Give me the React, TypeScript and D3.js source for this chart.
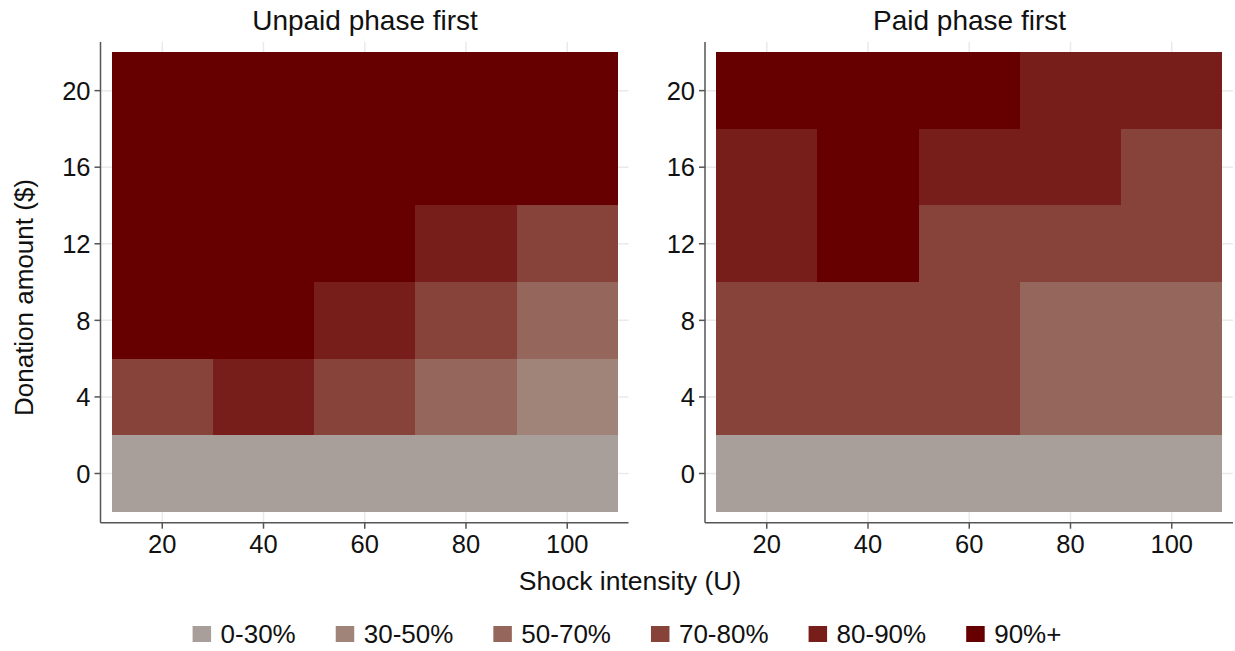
import React, { useMemo } from 'react';
import * as d3 from 'd3';

// --- Data ---
const shockLevels = [20, 40, 60, 80, 100];
const donationLevels = [0, 4, 8, 12, 16, 20];
const categories = ['0-30%', '30-50%', '50-70%', '70-80%', '80-90%', '90%+'];
const categoryColors = ['#a89f9a', '#a08479', '#94665c', '#87423a', '#771e1a', '#660000'];
const xTicks = [20, 40, 60, 80, 100];
const yTicks = [0, 4, 8, 12, 16, 20];

// category index per cell, one row per donation level (bottom to top), columns follow shockLevels
const unpaidFirst = [
  [0, 0, 0, 0, 0],
  [3, 4, 3, 2, 1],
  [5, 5, 4, 3, 2],
  [5, 5, 5, 4, 3],
  [5, 5, 5, 5, 5],
  [5, 5, 5, 5, 5],
];
const paidFirst = [
  [0, 0, 0, 0, 0],
  [3, 3, 3, 2, 2],
  [3, 3, 3, 2, 2],
  [4, 5, 3, 3, 3],
  [4, 5, 4, 4, 3],
  [5, 5, 5, 4, 4],
];
const panelTitles = ['Unpaid phase first', 'Paid phase first'];

// --- Layout ---
const W = 1235;
const H = 651;
const FONT = "'Liberation Sans', Arial, sans-serif";
const panelLeft = [100.5, 705];
const panelWidth = 528;
const plotTop = 42;
const plotBottom = 522.7;

const Panel = ({ left, title, cells }) => {
  const x = d3.scaleLinear().domain([7.8, 112.1]).range([left, left + panelWidth]);
  const y = d3.scaleLinear().domain([-2.57, 22.54]).range([plotBottom, plotTop]);
  const cw = 20;
  const ch = 4;
  return (
    <g>
      {/* grid */}
      {xTicks.map(t => (
        <line key={'gx' + t} x1={x(t)} x2={x(t)} y1={plotTop} y2={plotBottom} stroke="#eaeaea" strokeWidth={1.5} />
      ))}
      {yTicks.map(t => (
        <line key={'gy' + t} x1={left} x2={left + panelWidth} y1={y(t)} y2={y(t)} stroke="#eaeaea" strokeWidth={1.5} />
      ))}
      {/* cells */}
      {cells.map((row, ri) =>
        row.map((c, ci) => {
          const xv = shockLevels[ci];
          const yv = donationLevels[ri];
          return (
            <rect
              key={ri + '-' + ci}
              x={x(xv - cw / 2)}
              y={y(yv + ch / 2)}
              width={x(xv + cw / 2) - x(xv - cw / 2)}
              height={y(yv - ch / 2) - y(yv + ch / 2)}
              fill={categoryColors[c]}
              shapeRendering="crispEdges"
            />
          );
        })
      )}
      {/* axes */}
      <line x1={left} x2={left} y1={plotTop} y2={plotBottom} stroke="#555" strokeWidth={1.5} />
      <line x1={left} x2={left + panelWidth} y1={plotBottom} y2={plotBottom} stroke="#555" strokeWidth={1.5} />
      {yTicks.map(t => (
        <g key={'ty' + t}>
          <line x1={left - 6} x2={left} y1={y(t)} y2={y(t)} stroke="#555" strokeWidth={1.5} />
          <text x={left - 10} y={y(t)} dy="0.36em" textAnchor="end" fontSize={25.5} fontFamily={FONT} fill="#111">
            {t}
          </text>
        </g>
      ))}
      {xTicks.map(t => (
        <g key={'tx' + t}>
          <line x1={x(t)} x2={x(t)} y1={plotBottom} y2={plotBottom + 6} stroke="#555" strokeWidth={1.5} />
          <text x={x(t)} y={553} textAnchor="middle" fontSize={25.5} fontFamily={FONT} fill="#111">
            {t}
          </text>
        </g>
      ))}
      <text x={left + panelWidth / 2 + 0.5} y={29.5} textAnchor="middle" fontSize={28} fontFamily={FONT} fill="#111">
        {title}
      </text>
    </g>
  );
};

const App = () => {
  const legend = useMemo(() => {
    const fontSize = 26;
    const ctx = document.createElement('canvas').getContext('2d');
    let widths = categories.map(c => c.length * fontSize * 0.56);
    if (ctx) {
      ctx.font = `${fontSize}px 'Liberation Sans'`;
      widths = categories.map(c => ctx.measureText(c).width);
    }
    const sq = 18.5;
    const textGap = 9.5;
    const itemGap = 40;
    let pos = 0;
    const items = categories.map((c, i) => {
      const it = { label: c, color: categoryColors[i], x: pos };
      pos += sq + textGap + widths[i] + (i < categories.length - 1 ? itemGap : 0);
      return it;
    });
    const start = 627 - pos / 2;
    return { items, start, sq, textGap, fontSize };
  }, []);

  return (
    <svg width={W} height={H} style={{ display: 'block', position: 'absolute', left: 0, top: 0, background: '#fff' }}>
      <rect width={W} height={H} fill="#fff" />
      <Panel left={panelLeft[0]} title={panelTitles[0]} cells={unpaidFirst} />
      <Panel left={panelLeft[1]} title={panelTitles[1]} cells={paidFirst} />
      <text x={630} y={589.5} textAnchor="middle" fontSize={26.5} fontFamily={FONT} fill="#111">
        Shock intensity (U)
      </text>
      <text
        transform="translate(33,297.5) rotate(-90)"
        textAnchor="middle"
        fontSize={26}
        fontFamily={FONT}
        fill="#111"
      >
        Donation amount ($)
      </text>
      <g transform={`translate(${legend.start},0)`}>
        {legend.items.map(it => (
          <g key={it.label}>
            <rect x={it.x} y={626} width={legend.sq} height={16} fill={it.color} />
            <text x={it.x + legend.sq + legend.textGap} y={642.5} fontSize={legend.fontSize} fontFamily={FONT} fill="#111">
              {it.label}
            </text>
          </g>
        ))}
      </g>
    </svg>
  );
};

export default App;
